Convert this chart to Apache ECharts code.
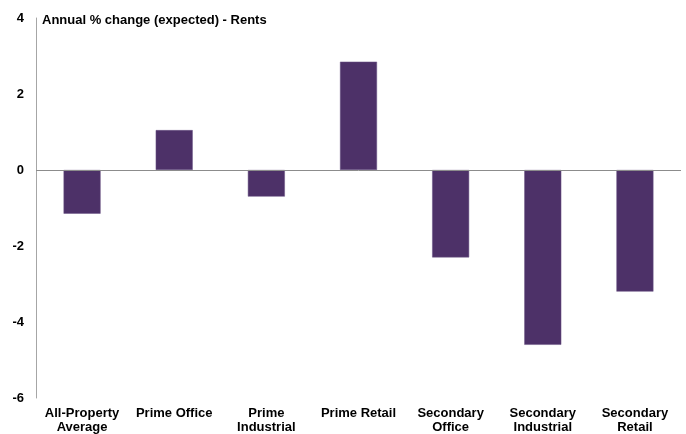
<!DOCTYPE html>
<html>
<head>
<meta charset="utf-8">
<script src="https://cdn.jsdelivr.net/npm/echarts@6/dist/echarts.min.js"></script>
<style>
  html, body { margin: 0; padding: 0; background: #fff; }
  #chart { width: 686px; height: 434px; }
</style>
</head>
<body>
<div id="chart"></div>
<script>
// Expected annual change in rents by property segment (%)
const categories = [
  'All-Property\nAverage',
  'Prime Office',
  'Prime\nIndustrial',
  'Prime Retail',
  'Secondary\nOffice',
  'Secondary\nIndustrial',
  'Secondary\nRetail'
];
const rentChange = [-1.15, 1.05, -0.7, 2.85, -2.3, -4.6, -3.2];
const yTicks = [-6, -4, -2, 0, 2, 4];

const chart = echarts.init(document.getElementById('chart'));
const font = 'Liberation Sans, Arial, sans-serif';

chart.setOption({
  animation: false,
  title: {
    text: 'Annual % change (expected) - Rents',
    left: 37,
    top: 9,
    textStyle: { fontFamily: font, fontSize: 13, fontWeight: 'bold', color: '#000' }
  },
  grid: { left: 36, right: 5, top: 18, bottom: 36, containLabel: false },
  xAxis: {
    type: 'category',
    data: categories,
    axisLine: { show: false },
    axisTick: { show: false },
    axisLabel: {
      interval: 0,
      margin: 8,
      fontFamily: font,
      fontSize: 13,
      fontWeight: 'bold',
      color: '#000',
      lineHeight: 14
    }
  },
  yAxis: {
    type: 'value',
    min: yTicks[0],
    max: yTicks[yTicks.length - 1],
    interval: 2,
    axisLine: { show: true, lineStyle: { color: '#a6a6a6', width: 1 } },
    axisTick: { show: false },
    splitLine: { show: false },
    axisLabel: {
      margin: 12,
      fontFamily: font,
      fontSize: 13,
      fontWeight: 'bold',
      color: '#000'
    }
  },
  series: [{
    type: 'bar',
    data: rentChange,
    barWidth: 37,
    itemStyle: { color: '#4d3168', borderColor: '#6a5484', borderWidth: 0.5 },
    markLine: {
      silent: true,
      symbol: 'none',
      label: { show: false },
      lineStyle: { color: '#8c8c8c', type: 'solid', width: 1 },
      data: [{ yAxis: 0 }]
    }
  }]
});
</script>
</body>
</html>
